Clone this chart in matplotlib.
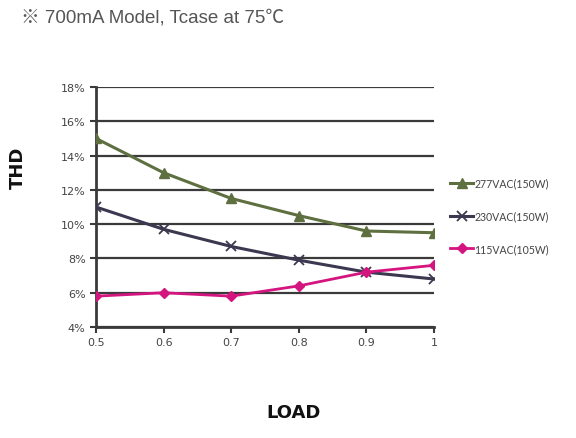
import matplotlib
matplotlib.use("Agg")
import matplotlib.pyplot as plt
from matplotlib.ticker import FuncFormatter

load = [0.5, 0.6, 0.7, 0.8, 0.9, 1.0]
thd_277 = [15.0, 13.0, 11.5, 10.5, 9.6, 9.5]
thd_230 = [11.0, 9.7, 8.7, 7.9, 7.2, 6.8]
thd_115 = [5.8, 6.0, 5.8, 6.4, 7.2, 7.6]
y_ticks = [4, 6, 8, 10, 12, 14, 16, 18]
x_labels = ["0.5", "0.6", "0.7", "0.8", "0.9", "1"]

grid_col = "#3a3a3a"
txt_col = "#444444"

fig = plt.figure(figsize=(5.76, 4.39), dpi=100)
ax = fig.add_axes([0.1667, 0.2528, 0.5868, 0.5467])

ax.plot(load, thd_277, color="#5f7040", lw=2.2, marker="^", ms=7, label="277VAC(150W)", zorder=3)
ax.plot(load, thd_230, color="#3b3850", lw=2.2, marker="x", ms=7, mew=1.3, label="230VAC(150W)", zorder=3)
ax.plot(load, thd_115, color="#d4147f", lw=2.0, marker="D", ms=5, label="115VAC(105W)", zorder=4)

ax.set_xlim(0.5, 1.0)
ax.set_ylim(4, 18)
ax.set_xticks(load)
ax.set_xticklabels(x_labels)
ax.set_yticks(y_ticks)
ax.yaxis.set_major_formatter(FuncFormatter(lambda v, p: f"{v:.0f}%"))
ax.grid(axis="y", color=grid_col, lw=1.6)
ax.set_axisbelow(True)
for s in ["top", "right"]:
    ax.spines[s].set_visible(False)
for s in ["left", "bottom"]:
    ax.spines[s].set_color(grid_col)
    ax.spines[s].set_linewidth(2.0)
ax.tick_params(colors=grid_col, labelcolor=txt_col, labelsize=8, width=1.5, length=4)

# axis titles placed on the figure, like the original datasheet
fig.text(0.031, 0.617, "THD", fontsize=13, fontweight="bold", color="#111111",
         rotation=90, ha="center", va="center")
fig.text(0.509, 0.059, "LOAD", fontsize=13, fontweight="bold", color="#111111",
         ha="center", va="center")

ax.legend(loc="center left", bbox_to_anchor=(1.02, 0.463), frameon=False,
          labelspacing=2.05, handlelength=2.2, handletextpad=0.1,
          labelcolor=txt_col, prop={"family": "Lato", "size": 7.6})

fig.text(0.036, 0.959, "※ 700mA Model, Tcase at 75℃", fontsize=13.5, color="#555555",
         family=["Liberation Sans", "Noto Sans CJK SC"], va="center")

fig.savefig("out.png", dpi=100)
